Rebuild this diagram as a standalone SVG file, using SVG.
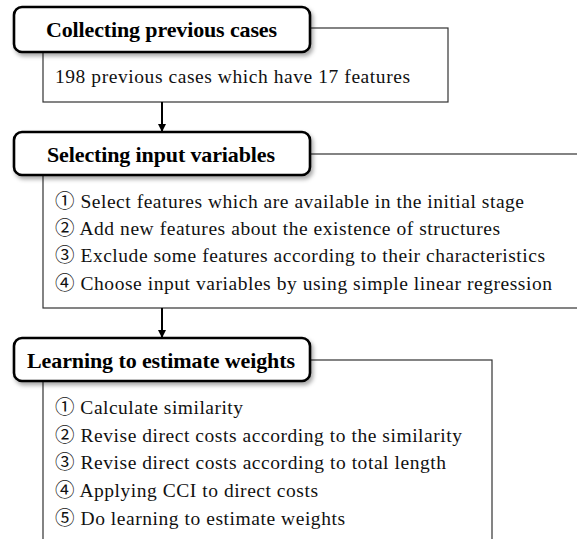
<svg xmlns="http://www.w3.org/2000/svg" width="577" height="539" viewBox="0 0 577 539">
<style>
.box{fill:#fff;stroke:#333;stroke-width:1.2}
.hdr{fill:#fff;stroke:#000;stroke-width:2.6;filter:url(#sh)}
.ht{font-family:"Liberation Serif","Times New Roman",serif;font-weight:bold;font-size:22px;fill:#000}
.bt{font-family:"Liberation Serif","Noto Sans CJK KR",serif;font-size:19.5px;fill:#111}
.conn{stroke:#000;stroke-width:2;fill:none}
</style>
<defs>
<filter id="sh" x="-10%" y="-30%" width="120%" height="160%">
<feDropShadow dx="2" dy="3" stdDeviation="2" flood-color="#000" flood-opacity="0.35"/>
</filter>
<marker id="ah" markerWidth="8" markerHeight="8" refX="7" refY="4" orient="auto" markerUnits="userSpaceOnUse">
<path d="M0,0 L8,4 L0,8 Z" fill="#000"/>
</marker>
</defs>
<g id="node1">
<rect class="box" x="43" y="28" width="405" height="74"/>
<rect class="hdr" x="14" y="7" width="296" height="45" rx="8"/>
<text class="ht" x="46" y="37" textLength="231" lengthAdjust="spacing">Collecting previous cases</text>
<text class="bt" x="55" y="83" textLength="355" lengthAdjust="spacing">198 previous cases which have 17 features</text>
</g>
<g id="node2">
<rect class="box" x="43" y="154" width="560" height="154"/>
<rect class="hdr" x="14" y="132" width="296" height="43" rx="8"/>
<text class="ht" x="47" y="162" textLength="228" lengthAdjust="spacing">Selecting input variables</text>
<text class="bt" x="55" y="208" textLength="469" lengthAdjust="spacing">① Select features which are available in the initial stage</text>
<text class="bt" x="55" y="235" textLength="445" lengthAdjust="spacing">② Add new features about the existence of structures</text>
<text class="bt" x="55" y="262" textLength="490" lengthAdjust="spacing">③ Exclude some features according to their characteristics</text>
<text class="bt" x="55" y="290" textLength="497" lengthAdjust="spacing">④ Choose input variables by using simple linear regression</text>
</g>
<g id="node3">
<rect class="box" x="43" y="360" width="449" height="200"/>
<rect class="hdr" x="14" y="338" width="296" height="43" rx="8"/>
<text class="ht" x="27" y="368" textLength="268" lengthAdjust="spacing">Learning to estimate weights</text>
<text class="bt" x="55" y="414" textLength="188" lengthAdjust="spacing">① Calculate similarity</text>
<text class="bt" x="55" y="442" textLength="407" lengthAdjust="spacing">② Revise direct costs according to the similarity</text>
<text class="bt" x="55" y="469" textLength="391" lengthAdjust="spacing">③ Revise direct costs according to total length</text>
<text class="bt" x="55" y="497" textLength="263" lengthAdjust="spacing">④ Applying CCI to direct costs</text>
<text class="bt" x="55" y="525" textLength="290" lengthAdjust="spacing">⑤ Do learning to estimate weights</text>
</g>
<g id="connectors">
<line class="conn" x1="162" y1="102" x2="162" y2="131" marker-end="url(#ah)"/>
<line class="conn" x1="162" y1="308" x2="162" y2="337" marker-end="url(#ah)"/>
</g>
</svg>
